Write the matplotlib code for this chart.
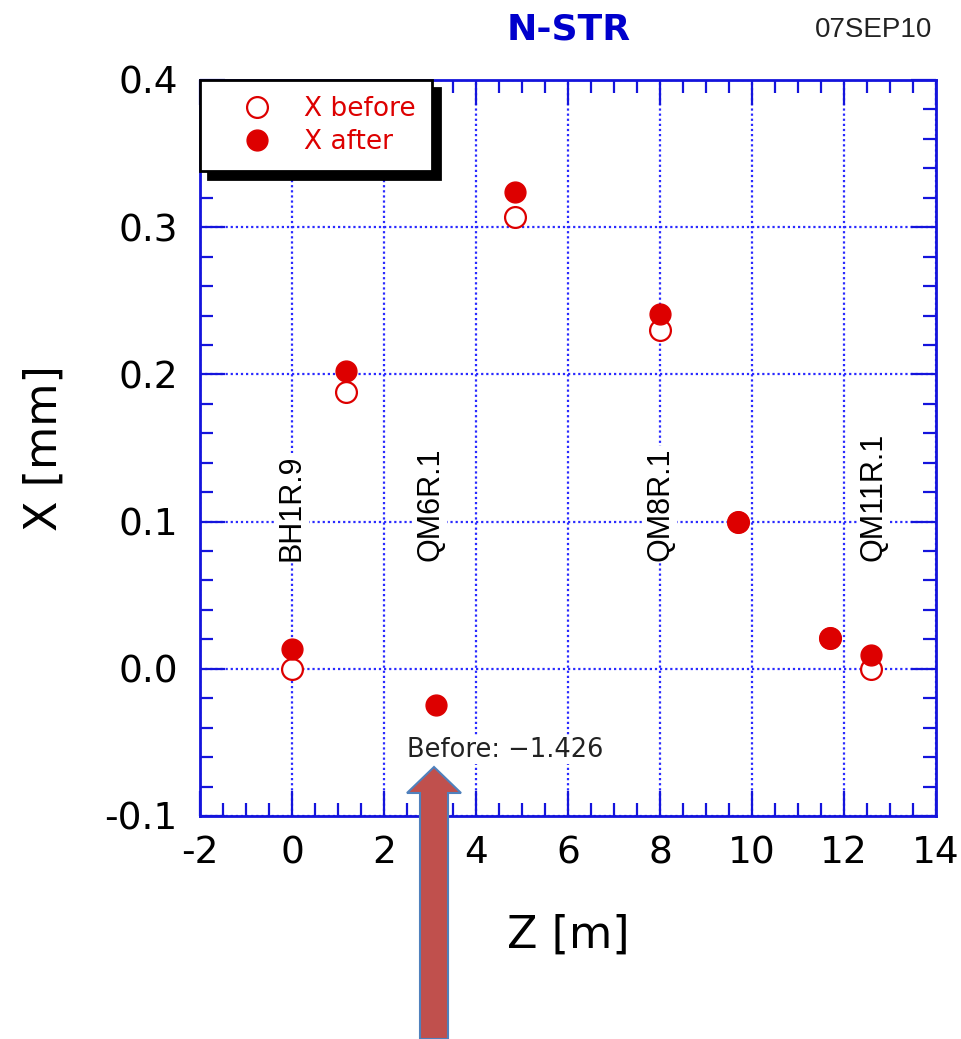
import matplotlib
matplotlib.use("Agg")
import matplotlib.pyplot as plt
import matplotlib.patches as mpatches
from matplotlib.ticker import MultipleLocator

# Data
z = [0.0, 1.17, 3.13, 4.85, 8.0, 9.70, 11.70, 12.59]
x_before = [0.0, 0.188, -1.426, 0.307, 0.230, 0.100, 0.021, 0.0]
x_after = [0.0135, 0.2025, -0.0245, 0.324, 0.241, 0.100, 0.021, 0.0095]

element_names = ["BH1R.9", "QM6R.1", "QM8R.1", "QM11R.1"]
element_z = [0.0, 3.0, 8.0, 12.65]

blue = "#1414DC"
red = "#DD0000"

fig = plt.figure(figsize=(9.61, 10.39), dpi=100)
ax = fig.add_axes([200 / 961, 1 - 816 / 1039, 736 / 961, 736 / 1039])

ax.set_xlim(-2, 14)
ax.set_ylim(-0.1, 0.4)
ax.xaxis.set_major_locator(MultipleLocator(2))
ax.xaxis.set_minor_locator(MultipleLocator(0.5))
ax.yaxis.set_major_locator(MultipleLocator(0.1))
ax.yaxis.set_minor_locator(MultipleLocator(0.02))
ax.set_yticks([-0.1, 0.0, 0.1, 0.2, 0.3, 0.4])
ax.set_yticklabels(["-0.1", "0.0", "0.1", "0.2", "0.3", "0.4"])
ax.set_xticks(range(-2, 15, 2))
ax.set_xticklabels([str(v) for v in range(-2, 15, 2)])

for s in ax.spines.values():
    s.set_color(blue)
    s.set_linewidth(2)
ax.tick_params(which="both", direction="in", top=True, right=True, color=blue, width=1.6)
ax.tick_params(which="major", length=18, labelsize=27)
ax.tick_params(which="minor", length=9.5)
ax.tick_params(axis="y", pad=16)
ax.tick_params(axis="x", pad=14)

ax.grid(True, which="major", color="#2a2aff", linestyle=(0, (1, 1.3)), linewidth=1.6)
ax.set_axisbelow(True)

ax.plot(z, x_before, "o", ms=15, mfc="white", mec=red, mew=1.6, label="X before", zorder=3)
ax.plot(z, x_after, "o", ms=15, mfc=red, mec=red, mew=1, label="X after", zorder=4)

for name, zz in zip(element_names, element_z):
    ax.text(zz, 0.073, name, rotation=90, ha="center", va="bottom", fontsize=22,
            family="Liberation Sans", color="black", zorder=2,
            bbox=dict(facecolor="white", edgecolor="none", pad=1))

ax.text(2.5, -0.055, "Before: \u22121.426", ha="left", va="center", fontsize=18.5,
        color="#222222", zorder=2, bbox=dict(facecolor="white", edgecolor="none", pad=1))

ax.set_xlabel("Z [m]", fontsize=32, labelpad=30)
ax.set_ylabel("X [mm]", fontsize=32, labelpad=28)

leg = ax.legend(loc="upper left", bbox_to_anchor=(0, 1), borderaxespad=0, fancybox=False,
                frameon=True, fontsize=19, labelcolor=red, handlelength=3.1,
                handletextpad=0.25, borderpad=0.6, labelspacing=0.28,
                shadow={"ox": 6, "oy": -6, "facecolor": "black", "edgecolor": "black", "alpha": 1})
leg.get_frame().set_edgecolor("black")
leg.get_frame().set_linewidth(2)
leg.set_zorder(10)

fig.text(569 / 961, 1 - 30 / 1039, "N-STR", ha="center", va="center", fontsize=26,
         fontweight="bold", color="#0000CC", family=["Liberation Sans Narrow", "DejaVu Sans"])
fig.text(932 / 961, 1 - 30 / 1039, "07SEP10", ha="right", va="center", fontsize=20,
         color="#222222", family="Liberation Sans")

arrow = mpatches.FancyArrow(434 / 961, 0, 0, 1 - 767 / 1039, width=28 / 961,
                            head_width=54 / 961, head_length=26 / 1039,
                            length_includes_head=True, transform=fig.transFigure,
                            facecolor="#C0504D", edgecolor="#4F81BD", linewidth=1.5,
                            zorder=20)
fig.add_artist(arrow)

fig.savefig("out.png", dpi=100)
